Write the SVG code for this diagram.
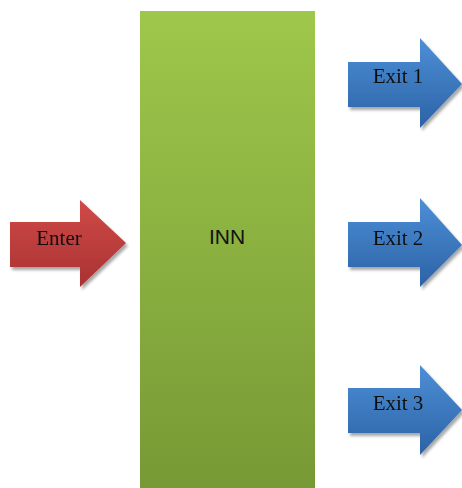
<svg xmlns="http://www.w3.org/2000/svg" width="462" height="488" viewBox="0 0 462 488">
  <defs>
    <linearGradient id="gGreen" x1="0" y1="0" x2="0" y2="1">
      <stop offset="0" stop-color="#9ec74b"/>
      <stop offset="1" stop-color="#779935"/>
    </linearGradient>
    <linearGradient id="gRed" x1="0" y1="0" x2="0" y2="1">
      <stop offset="0" stop-color="#d04a48"/>
      <stop offset="1" stop-color="#a93232"/>
    </linearGradient>
    <linearGradient id="gBlue" x1="0" y1="0" x2="0" y2="1">
      <stop offset="0" stop-color="#4d8fd6"/>
      <stop offset="1" stop-color="#2c62a6"/>
    </linearGradient>
    <filter id="shadow" x="-10%" y="-10%" width="130%" height="130%">
      <feGaussianBlur in="SourceAlpha" stdDeviation="1.5"/>
      <feOffset dx="2" dy="3" result="b"/>
      <feComponentTransfer><feFuncA type="linear" slope="0.35"/></feComponentTransfer>
      <feMerge><feMergeNode/><feMergeNode in="SourceGraphic"/></feMerge>
    </filter>
  </defs>
  <style>
    .lbl { font-family: "Liberation Serif", "Times New Roman", serif; font-size: 21px; fill: #111; text-anchor: middle; }
    .inn { font-family: "Liberation Sans", Arial, sans-serif; font-size: 21px; fill: #111; text-anchor: middle; }
  </style>

  <g id="inn">
    <rect x="140" y="11" width="175" height="477" fill="url(#gGreen)"/>
    <text class="inn" x="227" y="244">INN</text>
  </g>

  <g id="enter" filter="url(#shadow)">
    <polygon points="10,222 80,222 80,200 126,243 80,287 80,267 10,267" fill="url(#gRed)"/>
    <text class="lbl" x="59" y="245">Enter</text>
  </g>

  <g id="exit1" filter="url(#shadow)">
    <polygon points="348,62 420,62 420,38 462,84 420,128 420,107 348,107" fill="url(#gBlue)"/>
    <text class="lbl" x="398" y="83">Exit 1</text>
  </g>

  <g id="exit2" filter="url(#shadow)">
    <polygon points="348,222 420,222 420,198 462,245 420,287 420,267 348,267" fill="url(#gBlue)"/>
    <text class="lbl" x="398" y="245">Exit 2</text>
  </g>

  <g id="exit3" filter="url(#shadow)">
    <polygon points="348,388 420,388 420,365 462,410 420,455 420,433 348,433" fill="url(#gBlue)"/>
    <text class="lbl" x="398" y="410">Exit 3</text>
  </g>

  <g id="connectors"/>
</svg>
